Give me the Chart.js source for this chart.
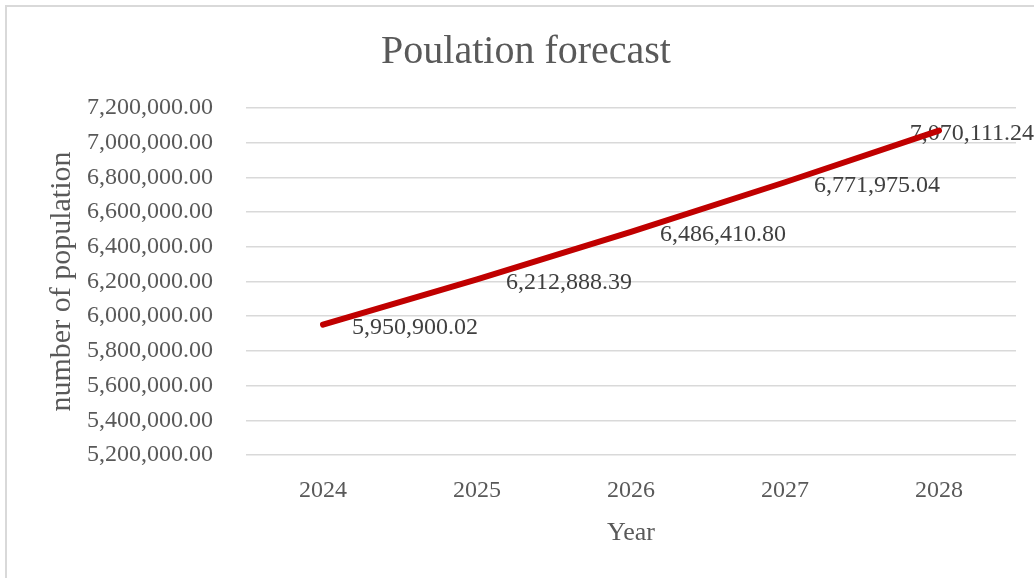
<!DOCTYPE html>
<html>
<head>
<meta charset="utf-8">
<script src="https://cdn.jsdelivr.net/npm/chart.js@4/dist/chart.umd.min.js"></script>
<style>
  html, body { margin: 0; padding: 0; background: #fff; overflow: hidden; }
  #frame {
    position: absolute; left: 5px; top: 5px; width: 2000px; height: 2000px;
    border-left: 2px solid #d9d9d9; border-top: 2px solid #d9d9d9;
  }
  #wrap { position: absolute; left: 0; top: 0; width: 1034px; height: 578px; }
</style>
</head>
<body>
<div id="frame"></div>
<div id="wrap"><canvas id="popChart"></canvas></div>
<script>
const years = ['2024', '2025', '2026', '2027', '2028'];
const population = [5950900.02, 6212888.39, 6486410.80, 6771975.04, 7070111.24];
const yMin = 5200000;
const yMax = 7200000;
const yStep = 200000;

const fmt = v => v.toLocaleString('en-US', { minimumFractionDigits: 2, maximumFractionDigits: 2 });

Chart.defaults.font.family = "'Liberation Serif', 'Times New Roman', serif";
Chart.defaults.color = '#595959';

// Excel-style value labels to the right of each point
const valueLabels = {
  id: 'valueLabels',
  beforeDatasetsDraw(chart) {
    const ctx = chart.ctx;
    const meta = chart.getDatasetMeta(0);
    ctx.save();
    ctx.font = "24px 'Liberation Serif', serif";
    ctx.fillStyle = '#404040';
    ctx.textBaseline = 'middle';
    ctx.textAlign = 'left';
    meta.data.forEach((pt, i) => {
      const text = fmt(population[i]);
      const w = ctx.measureText(text).width;
      let x = pt.x + 29;
      if (x + w > chart.width) x = chart.width - w;
      ctx.fillText(text, x, pt.y + 3);
    });
    ctx.restore();
  }
};

new Chart(document.getElementById('popChart'), {
  type: 'line',
  data: {
    labels: years,
    datasets: [{
      label: 'Population',
      data: population,
      borderColor: '#C00000',
      borderWidth: 6,
      borderCapStyle: 'round',
      pointRadius: 0,
      tension: 0
    }]
  },
  options: {
    responsive: true,
    maintainAspectRatio: false,
    animation: false,
    layout: { padding: { left: 36, right: 18, top: 0, bottom: 0 } },
    plugins: {
      legend: { display: false },
      tooltip: { enabled: false },
      title: {
        display: true,
        text: 'Poulation forecast',
        color: '#595959',
        font: { size: 40, weight: 'normal' },
        padding: { top: 28, bottom: 32 }
      }
    },
    scales: {
      x: {
        offset: true,
        grid: { display: false, drawTicks: false },
        border: { display: false },
        ticks: { padding: 21, font: { size: 24 } },
        title: {
          display: true,
          text: 'Year',
          font: { size: 26 },
          padding: { top: 0, bottom: 29 }
        },
        afterFit(scale) { scale.height = 123; }
      },
      y: {
        min: yMin,
        max: yMax,
        grid: { color: '#d9d9d9', lineWidth: 1.5, drawTicks: false },
        border: { display: false },
        ticks: {
          stepSize: yStep,
          padding: 33,
          font: { size: 24 },
          callback: v => fmt(v)
        },
        title: {
          display: true,
          text: 'number of population',
          font: { size: 30 },
          padding: { top: 8, bottom: 0 }
        },
        afterFit(scale) { scale.width = 210; }
      }
    }
  },
  plugins: [valueLabels]
});
</script>
</body>
</html>
